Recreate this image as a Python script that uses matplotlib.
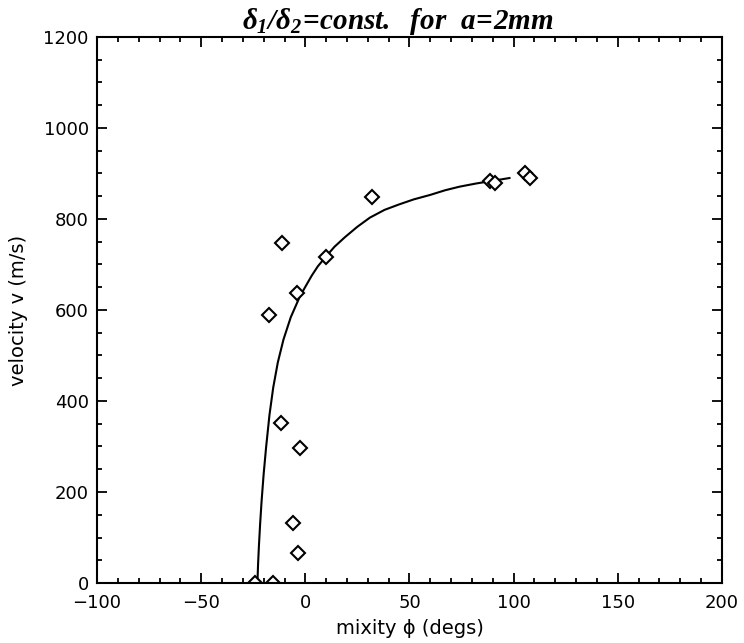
import matplotlib
matplotlib.use("Agg")
import matplotlib.pyplot as plt
from matplotlib.ticker import MultipleLocator

plt.rcParams['mathtext.fontset'] = 'custom'
plt.rcParams['mathtext.it'] = 'Liberation Serif:bold:italic'
plt.rcParams['mathtext.rm'] = 'Liberation Serif:bold:italic'
plt.rcParams['mathtext.bf'] = 'Liberation Serif:bold:italic'

# measured data points (mixity in degrees, velocity in m/s)
phi_pts = [-24.0, -15.5, -11.8, -2.5, -5.8, -3.6, 31.9, -11.3, 9.8, -4.1, -17.3,
           88.5, 91.0, 105.5, 108.0]
v_pts = [0, 0, 352, 296, 131, 65, 849, 747, 717, 638, 589,
         884, 879, 900, 889]

# fitted curve
phi_fit = [-23.0, -22.7, -22.3, -21.7, -21.0, -20.0, -18.8, -17.2, -15.4, -13.2,
           -10.5, -7.0, -2.5, 3.0, 6.0, 10.0, 14.0, 19.0, 25.0, 31.0,
           38.0, 45.0, 52.0, 60.0, 67.0, 74.0, 82.0, 90.0, 98.0]
v_fit = [0, 40, 80, 130, 180, 240, 300, 370, 430, 485,
         535, 584, 631, 675, 696, 718, 739, 760, 783, 803,
         820, 832, 843, 853, 863, 871, 878, 884, 890]

x_ticks = [-100, -50, 0, 50, 100, 150, 200]
y_ticks = [0, 200, 400, 600, 800, 1000, 1200]

fig = plt.figure(figsize=(7.44, 6.43), dpi=100)
ax = fig.add_axes([0.1304, 0.0933, 0.8400, 0.8492])

ax.plot(phi_fit, v_fit, color='black', lw=1.5)
ax.plot(phi_pts, v_pts, linestyle='none', marker='D', ms=7, mfc='white',
        mec='black', mew=1.5)

ax.set_xlim(-100, 200)
ax.set_ylim(0, 1200)
ax.set_xticks(x_ticks)
ax.set_yticks(y_ticks)
ax.xaxis.set_minor_locator(MultipleLocator(10))
ax.yaxis.set_minor_locator(MultipleLocator(50))
ax.tick_params(which='both', direction='in', top=True, right=True, width=1.3)
ax.tick_params(which='major', length=7, labelsize=13)
ax.tick_params(axis='x', which='major', pad=8)
ax.tick_params(axis='y', which='major', pad=6)
ax.tick_params(which='minor', length=3.5)
for lab in ax.get_xticklabels() + ax.get_yticklabels():
    lab.set_family('DejaVu Sans')
for s in ax.spines.values():
    s.set_linewidth(1.5)

ax.set_xlabel('mixity \u03d5 (degs)', family='DejaVu Sans', fontsize=14, labelpad=5)
ax.set_ylabel('velocity v (m/s)', family='DejaVu Sans', fontsize=14, labelpad=11)
ax.set_title(r'$\delta_1/\delta_2\!=\!const.\ \ for\ \ a\!=\!2mm$', fontsize=21,
             pad=2, x=0.481)

fig.savefig('out.png', dpi=100)
